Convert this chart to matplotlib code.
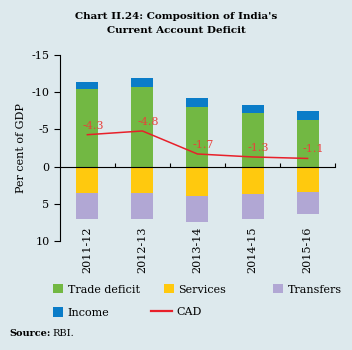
import matplotlib.pyplot as plt
import numpy as np

years = ["2011-12", "2012-13", "2013-14", "2014-15", "2015-16"]
trade_deficit = [-10.5, -10.7, -8.0, -7.2, -6.3]
income = [-0.9, -1.2, -1.2, -1.1, -1.2]
services = [3.6, 3.6, 3.9, 3.7, 3.4]
transfers = [3.5, 3.5, 3.6, 3.3, 3.0]
cad = [-4.3, -4.8, -1.7, -1.3, -1.1]
y_ticks = [-15, -10, -5, 0, 5, 10]

bg = "#dde9ed"
serif = "DejaVu Serif"

fig = plt.figure(figsize=(3.52, 3.50), dpi=100, facecolor=bg)
ax = fig.add_axes([0.170, 0.312, 0.782, 0.530], facecolor=bg)

x = np.arange(len(years))
width = 0.4
trade = np.array(trade_deficit)
h_trade = ax.bar(x, trade, width, color="#72b843", label="Trade deficit")
h_inc = ax.bar(x, income, width, bottom=trade, color="#0a7cc8", label="Income")
h_serv = ax.bar(x, services, width, color="#ffc90e", label="Services")
h_tr = ax.bar(x, transfers, width, bottom=services, color="#b1a7d4", label="Transfers")
h_cad, = ax.plot(x, cad, color="#e8202a", linewidth=1.1, label="CAD")

for xi, v in zip(x, cad):
    ax.annotate(f"{v}", (xi, v), xytext=(4, 6.5), textcoords="offset points",
                ha="center", va="center", color="#e8413c", fontsize=8,
                family=serif)

ax.set_xlim(-0.5, len(years) - 0.5)
ax.set_ylim(10, -15)
ax.set_yticks(y_ticks)
ax.set_yticklabels([str(t) for t in y_ticks], family=serif, fontsize=8)
ax.tick_params(axis="y", direction="out", length=4, width=0.8)

ax.spines["top"].set_visible(False)
ax.spines["right"].set_visible(False)
ax.spines["bottom"].set_position(("data", 0))
ax.set_xticks(x)
ax.set_xticklabels(years, rotation=90, family=serif, fontsize=8, va="top")
ax.tick_params(axis="x", which="major", length=0, pad=43)
ax.set_xticks(x + 0.5, minor=True)
ax.tick_params(axis="x", which="minor", direction="in", length=3, width=0.8)
for t in ax.xaxis.get_minor_ticks():
    t.tick1line.set_clip_on(False)

ax.set_ylabel("Per cent of GDP", family=serif, fontsize=8, labelpad=4)

fig.text(0.5, 0.965, "Chart II.24: Composition of India's\nCurrent Account Deficit",
         ha="center", va="top", family=serif, fontweight="bold", fontsize=7.5,
         linespacing=1.7)

leg_kw = dict(frameon=False, prop={"family": serif, "size": 8},
              handleheight=0.9, labelspacing=1.15, handletextpad=0.4,
              borderaxespad=0, borderpad=0, loc="upper left")
fig.legend([h_trade, h_inc], ["Trade deficit", "Income"], handlelength=0.9,
           bbox_to_anchor=(0.151, 0.188), **leg_kw)
fig.legend([h_serv], ["Services"], handlelength=0.9,
           bbox_to_anchor=(0.466, 0.188), **leg_kw)
fig.legend([h_tr], ["Transfers"], handlelength=0.9,
           bbox_to_anchor=(0.776, 0.188), **leg_kw)
leg_cad = fig.legend([h_cad], ["CAD"], handlelength=1.9,
                     bbox_to_anchor=(0.428, 0.124), **leg_kw)
leg_cad.legend_handles[0].set_linewidth(1.6)

fig.text(0.027, 0.04, "Source:", family=serif, fontweight="bold", fontsize=7)
fig.text(0.148, 0.04, "RBI.", family=serif, fontsize=7)

fig.savefig("out.png", dpi=100, facecolor=bg)
